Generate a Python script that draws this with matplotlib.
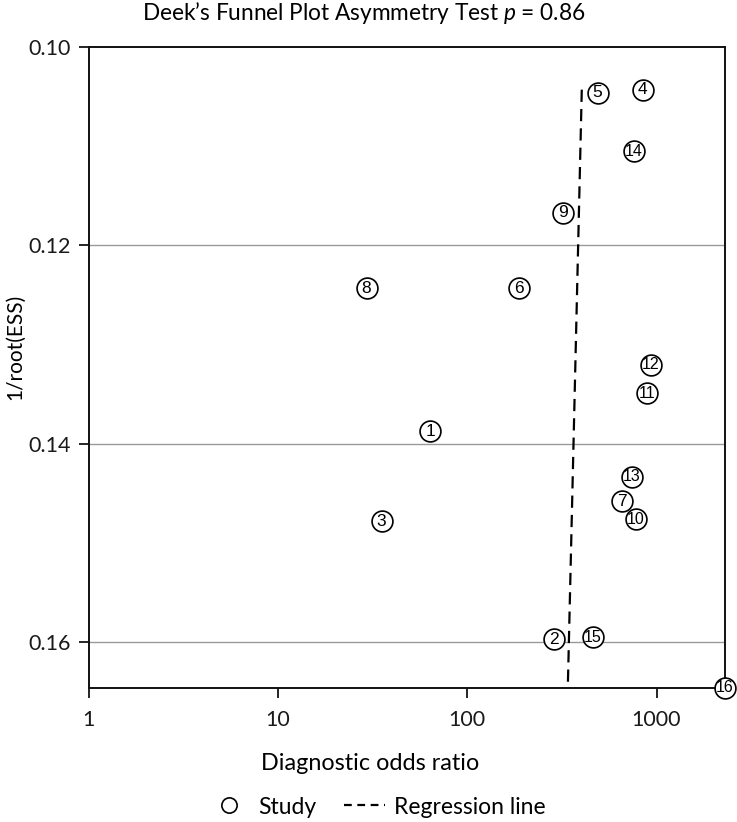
import matplotlib
matplotlib.use("Agg")
import matplotlib.pyplot as plt
from matplotlib.lines import Line2D

plt.rcParams['font.family'] = ['Lato', 'DejaVu Sans']
plt.rcParams['mathtext.fontset'] = 'custom'
plt.rcParams['mathtext.it'] = 'Lato:italic'
plt.rcParams['mathtext.rm'] = 'Lato'

# Data
study_ids = [str(i) for i in range(1, 17)]
dor = [64, 286, 35.3, 845, 488, 187, 654, 29.4, 319, 776, 887, 931, 738, 757, 460, 2300]
inv_root_ess = [0.1387, 0.1597, 0.1478, 0.1043, 0.1046, 0.1243, 0.1458, 0.1243,
                0.1167, 0.1476, 0.1349, 0.1320, 0.1433, 0.1105, 0.1595, 0.1646]
reg_x = [403, 340]
reg_y = [0.1043, 0.1646]
x_ticks = [1, 10, 100, 1000]
x_ticklabels = ['1', '10', '100', '1000']
y_ticks = [0.10, 0.12, 0.14, 0.16]
y_ticklabels = ['0.10', '0.12', '0.14', '0.16']

W, H = 737, 822
fig = plt.figure(figsize=(W / 100, H / 100), dpi=100)
L, R, T, B = 88.5, 725, 47, 688
ax = fig.add_axes([L / W, 1 - B / H, (R - L) / W, (B - T) / H])

ax.set_xscale('log')
ax.set_xlim(1, 2300)
ax.set_ylim(0.1646, 0.10)

for yv in y_ticks[1:]:
    ax.axhline(yv, color='#9a9a9a', lw=1.0, zorder=1)

ax.plot(reg_x, reg_y, color='black', lw=1.6, linestyle=(0, (5.5, 3.2)), zorder=2)

ax.plot(dor, inv_root_ess, linestyle='none', marker='o', ms=15, mfc='white',
        mec='black', mew=1.2, zorder=4, clip_on=False)
for sid, xv, yv in zip(study_ids, dor, inv_root_ess):
    ax.text(xv, yv, sid, ha='center', va='center', fontsize=12.5 if len(sid) == 1 else 11.5,
            family='Liberation Sans', zorder=5, clip_on=False)

ax.set_xticks(x_ticks)
ax.set_xticklabels(x_ticklabels)
ax.xaxis.set_minor_locator(matplotlib.ticker.NullLocator())
ax.set_yticks(y_ticks)
ax.set_yticklabels(y_ticklabels)
ax.tick_params(axis='both', direction='out', length=7, width=1.2, color='black',
               labelsize=15.5, labelcolor='#1a1a1a')
ax.tick_params(axis='x', pad=9)
ax.tick_params(axis='y', pad=6)
for s in ax.spines.values():
    s.set_linewidth(1.4)
    s.set_color('#111111')

fig.text(364 / W, 1 - 13 / H, r"Deek’s Funnel Plot Asymmetry Test $p$ = 0.86",
         ha='center', va='center', fontsize=16.3, color='black')
fig.text(370 / W, 1 - 763 / H, "Diagnostic odds ratio", ha='center', va='center',
         fontsize=16.8, color='black')
fig.text(15 / W, 1 - 347 / H, "1/root(ESS)", ha='center', va='center',
         rotation=90, fontsize=15, color='black')

handles = [Line2D([], [], linestyle='none', marker='o', ms=11, mfc='white',
                  mec='black', mew=1.2),
           Line2D([], [], color='black', lw=1.6, linestyle=(0, (3.5, 2.5)))]
fig.legend(handles, ['Study', 'Regression line'], loc='center',
           bbox_to_anchor=(377 / W, 1 - 807 / H), ncol=2, frameon=False,
           fontsize=16.5, handlelength=1.8, handletextpad=0.4, columnspacing=1.2)

fig.savefig('out.png', dpi=100)
